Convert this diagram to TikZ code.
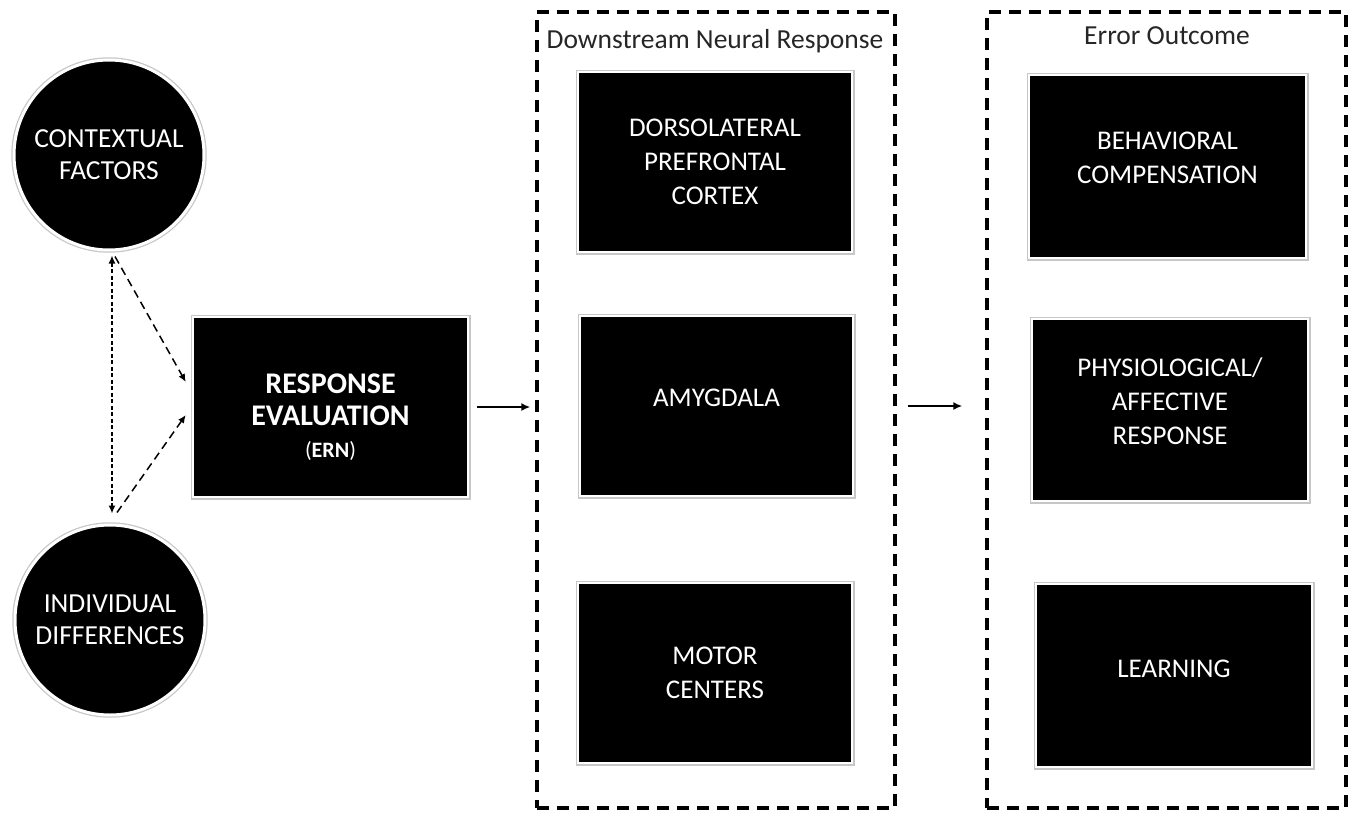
\documentclass[tikz,border=0pt]{standalone}
\usepackage{fontspec}
\setmainfont{Carlito}
\usetikzlibrary{arrows.meta,calc}
\begin{document}
\begin{tikzpicture}[x=1pt,y=-1pt,
  blk/.style={rectangle, fill=black, draw=white, line width=2.5pt, text=white, align=center,
    inner sep=0pt, font=\fontsize{27}{34}\selectfont, preaction={draw=black!22, line width=5pt}},
  circ/.style={circle, fill=black, draw=white, line width=3pt, text=white, align=center,
    inner sep=0pt, minimum size=190pt, font=\fontsize{27.5}{32}\selectfont,
    preaction={draw=black!22, line width=5.5pt}},
  cont/.style={rectangle, draw=black, line width=3.5pt, dash pattern=on 12pt off 8pt, inner sep=0pt},
  ttl/.style={font=\fontsize{27.5}{30}\selectfont, anchor=base, text=black!85},
  arr/.style={line width=1.6pt, -{Latex[length=9pt,width=8pt]}},
  dotarr/.style={line width=1.5pt, dash pattern=on 4pt off 2.5pt,
    {Latex[length=8pt,width=7pt]}-{Latex[length=8pt,width=7pt]}},
  dasharr/.style={line width=1.5pt, dash pattern=on 8pt off 5pt, -{Latex[length=8pt,width=7pt]}}
]
\useasboundingbox (0,0) rectangle (1350,812);

% containers
\node[cont, minimum width=358pt, minimum height=796pt] (c1) at (716,410) {};
\node[cont, minimum width=359pt, minimum height=796pt] (c2) at (1166.5,410) {};
\node[ttl] (t1) at (715,48) {Downstream Neural Response};
\node[ttl] (t2) at (1167,44) {Error Outcome};

% left circles
\node[circ] (ctx) at (109,155) {CONTEXTUAL\\FACTORS};
\node[circ] (ind) at (110,620) {INDIVIDUAL\\DIFFERENCES};

% response evaluation
\node[blk, minimum width=275pt, minimum height=180pt] (resp) at (330.5,407) {};
\node[text=white, anchor=base, font=\fontsize{30}{32}\selectfont\bfseries] (r1) at (330.5,393) {RESPONSE};
\node[text=white, anchor=base, font=\fontsize{30}{32}\selectfont\bfseries] (r2) at (330.5,425) {EVALUATION};
\node[text=white, anchor=base, font=\fontsize{22}{24}\selectfont] (r3) at (330.5,457) {(\textbf{ERN})};

% downstream neural response boxes
\node[blk, minimum width=274pt, minimum height=180pt] (dlpfc) at (715,162) {DORSOLATERAL\\PREFRONTAL\\CORTEX};
\node[blk, minimum width=273pt, minimum height=180pt, text depth=16pt] (amyg) at (716.5,406) {AMYGDALA};
\node[blk, minimum width=274pt, minimum height=180pt] (motor) at (715,673) {MOTOR\\CENTERS};

% error outcome boxes
\node[blk, minimum width=277pt, minimum height=183pt, text depth=18pt] (beh) at (1167.5,166.5) {BEHAVIORAL\\COMPENSATION};
\node[blk, minimum width=276pt, minimum height=182pt, text depth=18pt] (phys) at (1170,410) {PHYSIOLOGICAL/\\AFFECTIVE\\RESPONSE};
\node[blk, minimum width=276pt, minimum height=183pt, text depth=14pt] (learn) at (1174,675.5) {LEARNING};

% left connectors
\coordinate (T) at ([xshift=3pt,yshift=-4pt]ctx.south);
\coordinate (B) at ([xshift=2pt,yshift=10pt]ind.north);
\draw[dotarr] (T) -- (B);
\draw[dasharr] ([xshift=3pt,yshift=-1pt]T) -- ([xshift=-6pt,yshift=25pt]resp.west);
\draw[dasharr] ([xshift=5pt,yshift=1pt]B) -- ([xshift=-6pt,yshift=-8pt]resp.west);

% main arrows
\draw[arr] ([xshift=8pt]resp.east) -- ([xshift=-5pt]c1.west |- resp.east);
\draw[arr] ([xshift=11pt]c1.east |- amyg.east) -- ([xshift=-23pt]c2.west |- amyg.east);
\end{tikzpicture}
\end{document}
